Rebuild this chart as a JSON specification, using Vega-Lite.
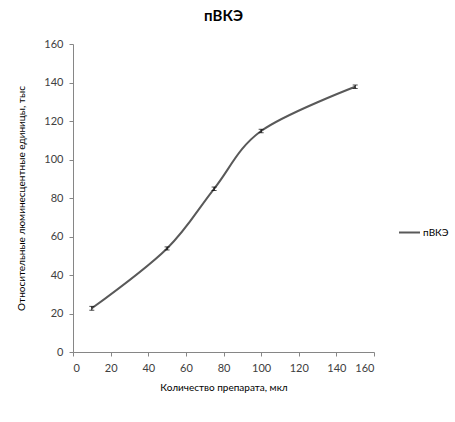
{
  "$schema": "https://vega.github.io/schema/vega-lite/v6.json",
  "autosize": {"type": "none"},
  "width": 301,
  "height": 308,
  "padding": {"left": 73, "top": 44, "right": 81, "bottom": 70},
  "background": "white",
  "title": {
    "text": "пВКЭ",
    "font": "Lato",
    "fontSize": 15,
    "fontWeight": "bold",
    "color": "#000000",
    "anchor": "middle",
    "offset": 14
  },
  "data": {
    "values": [
      {"x": 10, "y": 22.7, "lo": 21.7, "hi": 23.7, "series": "пВКЭ"},
      {"x": 50, "y": 53.8, "lo": 53.0, "hi": 54.6, "series": "пВКЭ"},
      {"x": 75, "y": 84.8, "lo": 83.9, "hi": 85.7, "series": "пВКЭ"},
      {"x": 100, "y": 114.8, "lo": 113.9, "hi": 115.7, "series": "пВКЭ"},
      {"x": 150, "y": 137.8, "lo": 136.9, "hi": 138.7, "series": "пВКЭ"}
    ]
  },
  "config": {
    "view": {"stroke": null},
    "axis": {
      "grid": false,
      "domainColor": "#868686",
      "tickColor": "#868686",
      "tickSize": 4,
      "labelOverlap": false,
      "labelFont": "Lato",
      "labelFontSize": 11,
      "labelColor": "#404040",
      "titleFont": "Lato",
      "titleFontSize": 10,
      "titleFontWeight": "normal",
      "titleColor": "#000000"
    },
    "legend": {
      "labelFont": "Lato",
      "labelFontSize": 10,
      "labelColor": "#000000"
    }
  },
  "encoding": {
    "x": {
      "field": "x",
      "type": "quantitative",
      "title": "Количество препарата, мкл",
      "scale": {"domain": [0, 160], "nice": false},
      "axis": {
        "values": [0, 20, 40, 60, 80, 100, 120, 140, 160],
        "labelPadding": 6,
        "titlePadding": 9
      }
    }
  },
  "layer": [
    {
      "mark": {"type": "line", "interpolate": "cardinal", "tension": 0, "strokeWidth": 2},
      "encoding": {
        "y": {
          "field": "y",
          "type": "quantitative",
          "title": "Относительные люминесцентные единицы, тыс",
          "scale": {"domain": [0, 160], "nice": false},
          "axis": {
            "values": [0, 20, 40, 60, 80, 100, 120, 140, 160],
            "labelPadding": 6,
            "titlePadding": 17
          }
        },
        "color": {
          "field": "series",
          "type": "nominal",
          "scale": {"range": ["#595959"]},
          "legend": {
            "title": null,
            "orient": "none",
            "legendX": 325,
            "legendY": 177,
            "symbolType": "stroke",
            "symbolSize": 441,
            "symbolStrokeWidth": 2,
            "labelOffset": 2
          }
        }
      }
    },
    {
      "mark": {
        "type": "errorbar",
        "color": "#000000",
        "thickness": 1,
        "ticks": {"size": 5, "color": "#000000"}
      },
      "encoding": {
        "y": {
          "field": "lo",
          "type": "quantitative",
          "title": "Относительные люминесцентные единицы, тыс",
          "scale": {"domain": [0, 160], "nice": false},
          "axis": {
            "values": [0, 20, 40, 60, 80, 100, 120, 140, 160],
            "labelPadding": 6,
            "titlePadding": 17
          }
        },
        "y2": {"field": "hi"}
      }
    }
  ]
}
